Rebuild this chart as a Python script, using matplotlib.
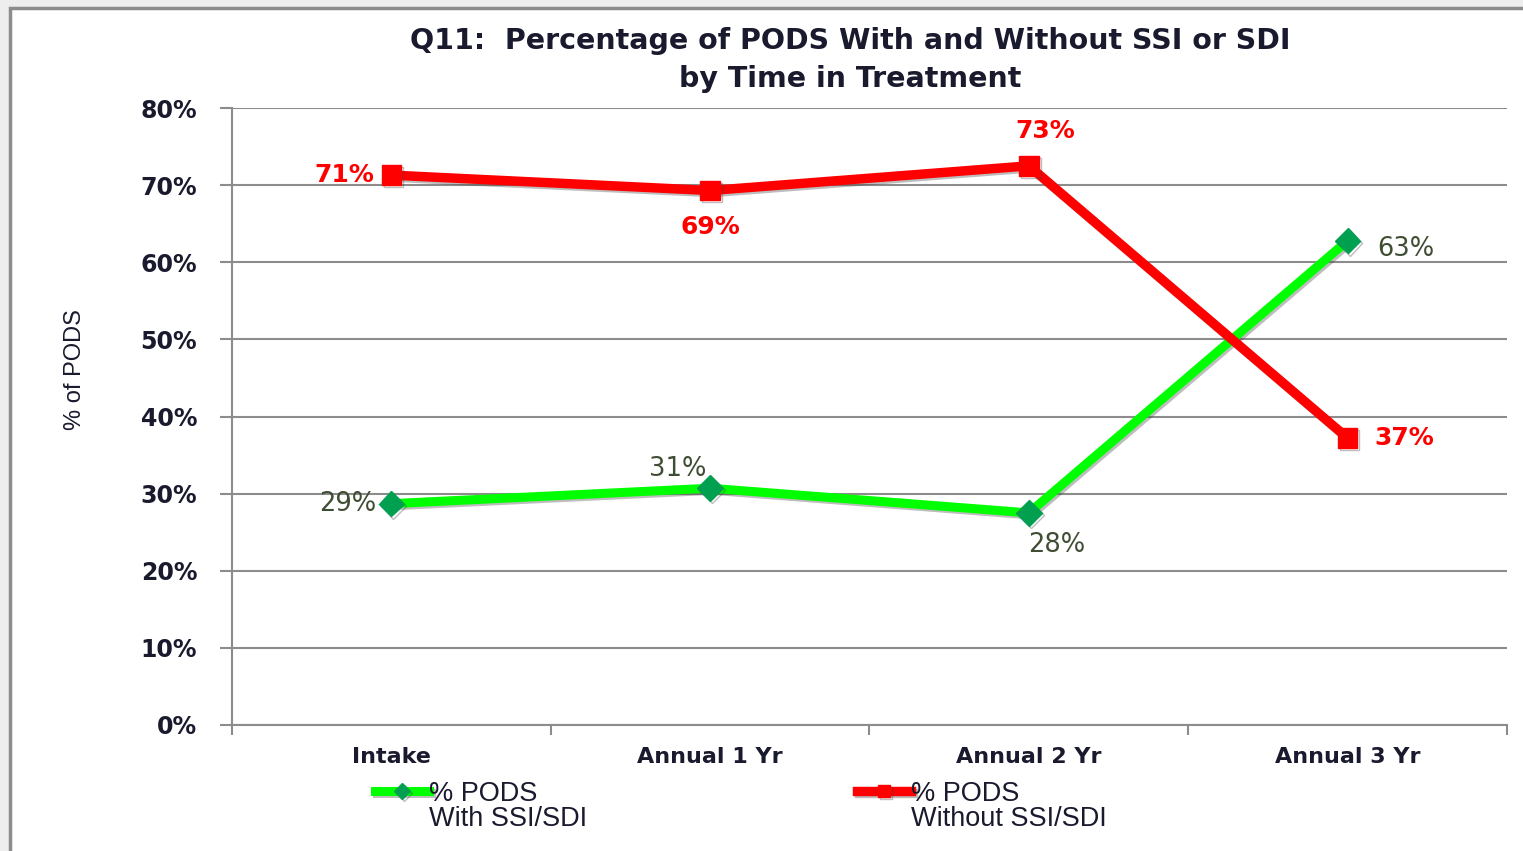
import numpy as np
import matplotlib
matplotlib.use("Agg")
import matplotlib.pyplot as plt
import matplotlib.patheffects as pe
from matplotlib.patches import Rectangle

# --- data ---
categories = ["Intake", "Annual 1 Yr", "Annual 2 Yr", "Annual 3 Yr"]
with_ssi = [28.7, 30.7, 27.5, 62.8]
without_ssi = [71.3, 69.3, 72.5, 37.2]
with_labels = ["29%", "31%", "28%", "63%"]
without_labels = ["71%", "69%", "73%", "37%"]

GREEN = "#00ff00"
GREEN_MK = "#00a050"
RED = "#ff0000"
TXT = "#1a1a2e"

fig = plt.figure(figsize=(15.23, 8.51), dpi=100, facecolor="#eeeeee")
# white panel with grey frame
fig.patches.append(Rectangle((10 / 1523, -0.01), 1.0, 1 - 8 / 851 + 0.01,
                             transform=fig.transFigure, facecolor="white",
                             edgecolor="#8c8c8c", linewidth=2.5, zorder=-10))

ax = fig.add_axes([232 / 1523, 1 - 725 / 851, (1507 - 232) / 1523, (725 - 108) / 851])
ax.set_facecolor("none")

x = np.arange(len(categories))
shadow = [pe.SimpleLineShadow(offset=(1.5, -1.5), shadow_color="#444444", alpha=0.35), pe.Normal()]

ax.plot(x, with_ssi, color=GREEN, lw=6.5, marker="D", ms=13, mfc=GREEN_MK, mec=GREEN_MK,
        solid_joinstyle="round", path_effects=shadow, zorder=3, label="% PODS\nWith SSI/SDI")
ax.plot(x, without_ssi, color=RED, lw=6.8, marker="s", ms=14, mfc=RED, mec=RED,
        solid_joinstyle="round", path_effects=shadow, zorder=4, label="% PODS\nWithout SSI/SDI")

# data labels (offsets in points)
green_off = [(-11, 0, "right", "center"), (-23, 14, "center", "center"),
             (20, -23, "center", "center"), (21, -6, "left", "center")]
red_off = [(-12, 0, "right", "center"), (0, -26, "center", "center"),
           (12, 25, "center", "center"), (19, 0, "left", "center")]
for i in range(len(categories)):
    dx, dy, ha, va = green_off[i]
    ax.annotate(with_labels[i], (x[i], with_ssi[i]), xytext=(dx, dy), textcoords="offset points",
                ha=ha, va=va, fontsize=18.5, color="#3f4d33", zorder=6)
    dx, dy, ha, va = red_off[i]
    ax.annotate(without_labels[i], (x[i], without_ssi[i]), xytext=(dx, dy), textcoords="offset points",
                ha=ha, va=va, fontsize=18, color=RED, fontweight="bold", zorder=6)

ax.set_xlim(-0.5, 3.5)
ax.set_ylim(0, 80)
ax.set_yticks(np.arange(0, 81, 10))
ax.set_yticklabels([f"{v}%" for v in range(0, 81, 10)], fontsize=17, fontweight="bold", color=TXT)
ax.yaxis.grid(True, color="#8c8c8c", lw=1.5)
ax.set_axisbelow(True)
ax.tick_params(axis="y", length=9, width=1.5, color="#8c8c8c", pad=16)

ax.set_xticks(x)
ax.set_xticklabels(categories, fontsize=16, fontweight="bold", color=TXT)
ax.set_xticks(np.arange(-0.5, 3.6, 1), minor=True)
ax.tick_params(axis="x", which="major", length=0, pad=16)
ax.tick_params(axis="x", which="minor", length=7, width=1.5, color="#8c8c8c")

for s in ["top", "right"]:
    ax.spines[s].set_visible(False)
ax.spines["left"].set_color("#8c8c8c")
ax.spines["left"].set_linewidth(1.5)
ax.spines["bottom"].set_color("#8c8c8c")
ax.spines["bottom"].set_linewidth(1.5)

fig.text(75 / 1523, 1 - 370 / 851, "% of PODS", rotation=90, ha="center", va="center",
         fontsize=17, family="Liberation Sans", color=TXT)

fig.text(850 / 1523, 1 - 60 / 851, "Q11:  Percentage of PODS With and Without SSI or SDI\nby Time in Treatment",
         ha="center", va="center", fontsize=20.5, fontweight="bold", color=TXT, linespacing=1.45)

leg = ax.legend(loc="upper left", bbox_to_anchor=(0.093, -0.052), ncol=2, frameon=False,
                prop={"family": "Liberation Sans", "size": 19.5}, handlelength=2.0,
                handletextpad=0.0, columnspacing=9.95, labelspacing=0.1, markerscale=0.6)
for t in leg.get_texts():
    t.set_color(TXT)
    t.set_linespacing(0.95)
# keep the legend keys level with the first text line
for col in leg._legend_handle_box.get_children():
    for item in col.get_children():
        item.align = "top"

plt.savefig("out.png", dpi=100, facecolor=fig.get_facecolor())
